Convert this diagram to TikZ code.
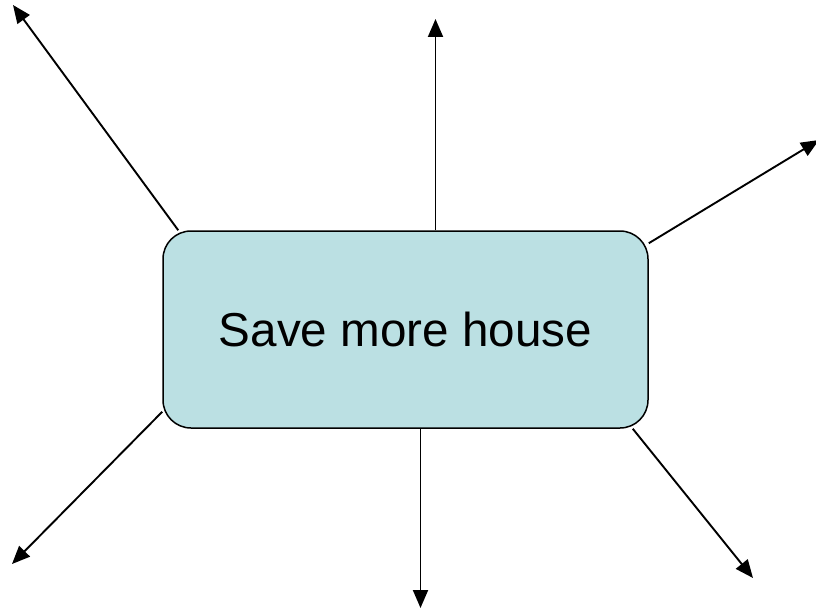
\documentclass[tikz,border=0pt]{standalone}
\usepackage{fontspec}
\setmainfont{Liberation Sans}
\usetikzlibrary{arrows.meta}
\definecolor{boxfill}{RGB}{187,224,227}
\begin{document}
\begin{tikzpicture}[x=1pt,y=-1pt,
  mainbox/.style={draw=black,line width=1.5pt,fill=boxfill,rounded corners=28pt,
    minimum width=485pt,minimum height=197pt,inner sep=0pt,
    font=\fontsize{47.6}{56}\selectfont},
  ray/.style={line width=1.9pt,-{Triangle[length=18pt,width=15pt]}}]
\useasboundingbox (0,0) rectangle (816,610);
\node[mainbox] (box) at (405.5,329.5) {\raisebox{-3pt}{Save more house}};
\coordinate (tl) at (13,5);
\coordinate (tc) at (435.5,19);
\coordinate (tr) at (819,140);
\coordinate (bl) at (12,564);
\coordinate (bc) at (420.5,608);
\coordinate (br) at (753,578);
\draw[ray] ([xshift=16pt]box.north west) -- (tl);
\draw[ray] ([xshift=30pt]box.north) -- (tc);
\draw[ray] ([yshift=-13pt]box.north east) -- (tr);
\draw[ray] ([yshift=17pt]box.south west) -- (bl);
\draw[ray] ([xshift=15pt]box.south) -- (bc);
\draw[ray] ([xshift=-16pt]box.south east) -- (br);
\end{tikzpicture}
\end{document}
